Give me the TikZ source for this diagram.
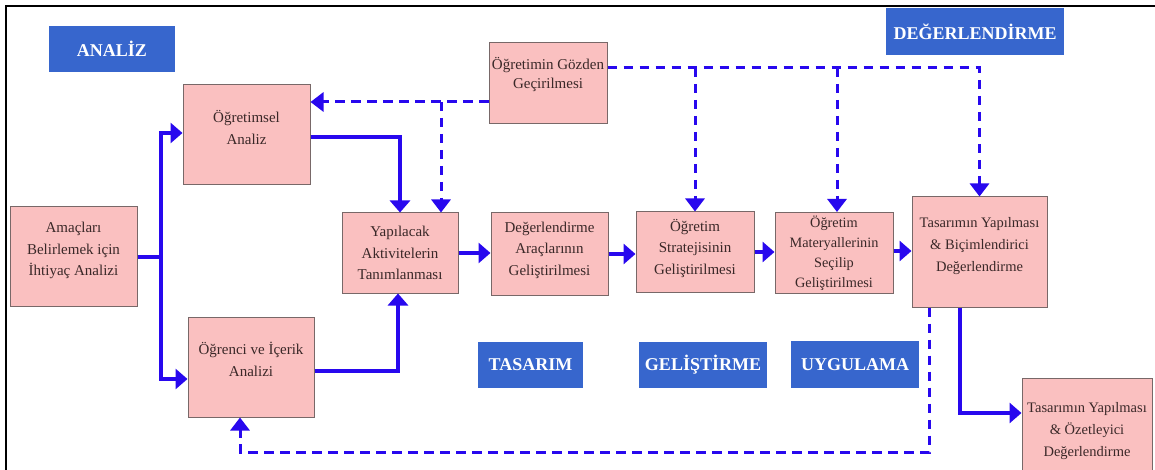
\documentclass[tikz,border=0pt]{standalone}
\usepackage{fontspec}
\setmainfont{Liberation Serif}
\usetikzlibrary{arrows.meta,calc}

\definecolor{pinkfill}{RGB}{250,192,192}
\definecolor{boxline}{RGB}{120,104,104}
\definecolor{inktext}{RGB}{58,40,40}
\definecolor{phaseblue}{RGB}{55,102,205}
\definecolor{flowblue}{RGB}{40,8,238}

\tikzset{
  pbox/.style={draw=boxline, fill=pinkfill, line width=1pt, text=inktext,
    align=center, inner sep=1pt, font=\fontsize{15}{21.5}\selectfont},
  phase/.style={fill=phaseblue, text=white, inner sep=0pt,
    font=\fontsize{18}{20}\selectfont\bfseries},
  flow/.style={draw=flowblue, line width=4pt,
    -{Triangle[width=20pt,length=12pt]}},
  review/.style={draw=flowblue, line width=3pt, dash pattern=on 9.5pt off 6.5pt,
    -{Triangle[width=19pt,length=13pt]}},
}

\begin{document}
\begin{tikzpicture}[x=1pt,y=-1pt]
\useasboundingbox (0,0) rectangle (1155,470);
\clip (0,0) rectangle (1155,470);
\fill[white] (0,0) rectangle (1155,470);

% frame lines
\draw[line width=2.4pt] (5,6) -- (1155,6);
\draw[line width=1.4pt] (6,6) -- (6,470);

% phase labels
\node[phase, minimum width=126pt, minimum height=46pt] (analiz) at (112,49) {ANALİZ};
\node[phase, minimum width=178pt, minimum height=47pt] (degerl) at (975,31.5) {DEĞERLENDİRME};
\node[phase, minimum width=105pt, minimum height=46pt] (tasarim) at (530.5,365) {TASARIM};
\node[phase, minimum width=128pt, minimum height=46pt] (gelis) at (703,365) {GELİŞTİRME};
\node[phase, minimum width=128pt, minimum height=47pt] (uygul) at (855,364.5) {UYGULAMA};

% process boxes (trailing/leading empty lines nudge the text block up/down)
\node[pbox, minimum width=127pt, minimum height=99pt] (needs) at (73.5,256.5)
  {Amaçları\\Belirlemek için\\İhtiyaç Analizi\\[-6.5pt]\mbox{}};
\node[pbox, minimum width=127pt, minimum height=100pt] (instr) at (246.5,135)
  {Öğretimsel\\Analiz\\[-6pt]\mbox{}};
\node[pbox, minimum width=126pt, minimum height=100pt] (learner) at (251,367)
  {Öğrenci ve İçerik\\Analizi\\[-6pt]\mbox{}};
\node[pbox, minimum width=118pt, minimum height=81pt,
  font=\fontsize{15}{19}\selectfont] (rev) at (548,83.5)
  {Öğretimin Gözden\\Geçirilmesi\\[3pt]\mbox{}};
\node[pbox, minimum width=116pt, minimum height=80pt] (act) at (400,253)
  {Yapılacak\\Aktivitelerin\\Tanımlanması};
\node[pbox, minimum width=117pt, minimum height=82pt] (evalt) at (549.5,254)
  {Değerlendirme\\Araçlarının\\Geliştirilmesi\\[-10.5pt]\mbox{}};
\node[pbox, minimum width=118pt, minimum height=80pt] (strat) at (695,252)
  {Öğretim\\Stratejisinin\\Geliştirilmesi\\[-10.5pt]\mbox{}};
\node[pbox, minimum width=118pt, minimum height=81pt,
  font=\fontsize{14.3}{20}\selectfont] (mat) at (834,253)
  {Öğretim\\Materyallerinin\\Seçilip\\Geliştirilmesi};
\node[pbox, minimum width=135pt, minimum height=110pt,
  font=\fontsize{14.5}{22}\selectfont] (form) at (979.5,252)
  {Tasarımın Yapılması\\\& Biçimlendirici\\Değerlendirme\\[-6pt]\mbox{}};
\node[pbox, minimum width=130pt, minimum height=94pt,
  font=\fontsize{14.5}{22}\selectfont] (summ) at (1087,425)
  {\mbox{}\\[0pt]Tasarımın Yapılması\\\& Özetleyici\\Değerlendirme};

% main flow
\coordinate (split) at (161,256.5);
\draw[flow] (needs.east) -- (split) |- ([yshift=2pt]instr.west);
\draw[flow] (split) |- ([yshift=-12pt]learner.west);
\draw[flow] ([yshift=-2pt]instr.east) -| (act.north);
\draw[flow] ([yshift=-4pt]learner.east) -| ([xshift=-2pt]act.south);
\draw[flow] (act.east) -- (act.east -| evalt.west);
\draw[flow] (evalt.east) -- (evalt.east -| strat.west);
\draw[flow] (strat.east) -- (strat.east -| mat.west);
\draw[flow] ([yshift=2pt]mat.east) -- ([yshift=2pt]mat.east -| form.west);
\draw[flow] ([xshift=-20pt]form.south) |- ([yshift=12pt]summ.west);

% review feedback
\coordinate (revL) at ([yshift=-18.5pt]rev.west);
\coordinate (tapA) at (441,102);
\draw[review] (revL) -- (revL -| instr.east);
\draw[review] (tapA) -- (tapA |- act.north);
\coordinate (revR) at ([yshift=15.5pt]rev.east);
\draw[review] (revR) -| (form.north);
\draw[review] (revR -| strat.north) -- (strat.north);
\draw[review] ([xshift=3pt]revR -| mat.north) -- ([xshift=3pt]mat.north);
\coordinate (loopR) at (929,452);
\draw[review] (form.south -| loopR) -- (loopR) -| ([xshift=-11pt]learner.south);
\end{tikzpicture}
\end{document}
